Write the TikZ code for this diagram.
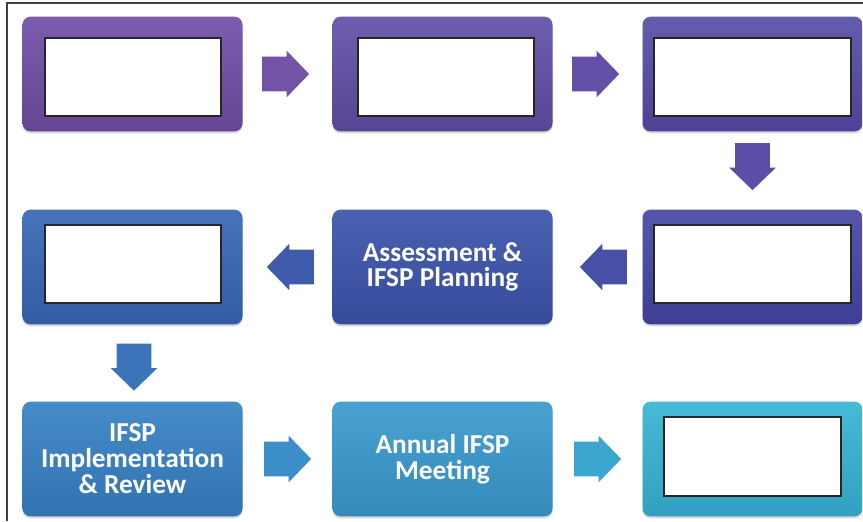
\documentclass[tikz,border=0pt]{standalone}
\usepackage{fontspec}
\setmainfont{Carlito}
\usetikzlibrary{shapes.arrows,shadows,calc}
\definecolor{frameC}{HTML}{404040}
\definecolor{t1}{HTML}{7B5CAE}\definecolor{b1c}{HTML}{644694}
\definecolor{t2}{HTML}{6F5DAE}\definecolor{b2c}{HTML}{584593}
\definecolor{t3}{HTML}{635DAE}\definecolor{b3c}{HTML}{4D4296}
\definecolor{t4}{HTML}{4673BA}\definecolor{b4c}{HTML}{335CA3}
\definecolor{t5}{HTML}{4961B0}\definecolor{b5c}{HTML}{374B9B}
\definecolor{t6}{HTML}{5555AC}\definecolor{b6c}{HTML}{3E3F94}
\definecolor{t7}{HTML}{458CC8}\definecolor{b7c}{HTML}{3272B1}
\definecolor{t8}{HTML}{48A2D1}\definecolor{b8c}{HTML}{348ABB}
\definecolor{t9}{HTML}{46BAD7}\definecolor{b9c}{HTML}{32A0C2}
\definecolor{a1c}{HTML}{7353A5}
\definecolor{a2c}{HTML}{6450A6}
\definecolor{d1c}{HTML}{5A4EA6}
\definecolor{l1c}{HTML}{4750A6}
\definecolor{l2c}{HTML}{3F5BAB}
\definecolor{d2c}{HTML}{3C74BA}
\definecolor{r3ac}{HTML}{3B8EC7}
\definecolor{r3bc}{HTML}{3BA6CF}
\tikzset{
  stagebox/.style={rectangle, rounded corners=6pt, minimum width=165pt, minimum height=86pt,
    inner sep=0pt, align=center, text=white,
    font=\bfseries\fontsize{20.5}{19.5}\selectfont,
    drop shadow={opacity=0.3, shadow xshift=0pt, shadow yshift=-1.5pt}},
  blankbox/.style={rectangle, draw=black!85, line width=1.1pt, fill=white, inner sep=0pt,
    minimum height=58.5pt},
  blockarrow/.style={single arrow, draw=none, inner xsep=0pt, inner ysep=12.75pt,
    minimum height=35.25pt, single arrow head extend=4.5pt, single arrow tip angle=92,
    anchor=tip},
}
\begin{document}
\begin{tikzpicture}[x=0.75pt,y=-0.75pt]
\useasboundingbox (0,0) rectangle (863,521);
\fill[white] (0,0) rectangle (863,521);
\draw[frameC, line width=1.2pt] (7,521) -- (7,3) -- (863,3);

% boxes
\node[stagebox, top color=t1, bottom color=b1c] (s1) at (132.5,74) {};
\node[stagebox, top color=t2, bottom color=b2c] (s2) at (442.5,74) {};
\node[stagebox, top color=t3, bottom color=b3c] (s3) at (752.5,74) {};
\node[stagebox, top color=t6, bottom color=b6c] (s4) at (752.5,267) {};
\node[stagebox, top color=t5, bottom color=b5c, font=\bfseries\fontsize{20.5}{19}\selectfont] (s5) at (442.5,267) {Assessment \&\\IFSP Planning};
\node[stagebox, top color=t4, bottom color=b4c] (s6) at (132.5,267) {};
\node[stagebox, top color=t7, bottom color=b7c] (s7) at (132.5,459) {IFSP\\Implementation\\\& Review};
\node[stagebox, top color=t8, bottom color=b8c] (s8) at (442.5,459) {Annual IFSP\\Meeting};
\node[stagebox, top color=t9, bottom color=b9c] (s9) at (752.5,459) {};

% blank white boxes
\node[blankbox, minimum width=132pt] (w1) at (133,77) {};
\node[blankbox, minimum width=132pt] (w2) at (446,77) {};
\node[blankbox, minimum width=147.75pt] (w3) at (752.5,77) {};
\node[blankbox, minimum width=147.75pt] (w4) at (752.5,264) {};
\node[blankbox, minimum width=132pt] (w6) at (133,264) {};
\node[blankbox, minimum width=132.75pt, minimum height=59.25pt] (w9) at (752.5,456.5) {};

% block arrows (placed by their tips)
\node[blockarrow, fill=a1c] (a1) at ($(s1.east)!0.5!(s2.west)+(22,0)$) {};
\node[blockarrow, fill=a2c] (a2) at ($(s2.east)!0.5!(s3.west)+(22,0)$) {};
\node[blockarrow, fill=d1c, rotate=-90] (a3) at ($(s3.south)!0.5!(s4.north)+(0,20)$) {};
\node[blockarrow, fill=l1c, rotate=180] (a4) at ($(s4.west)!0.5!(s5.east)+(-18,0)$) {};
\node[blockarrow, fill=l2c, rotate=180] (a5) at ($(s5.west)!0.5!(s6.east)+(-21,0)$) {};
\node[blockarrow, fill=d2c, rotate=-90] (a6) at ($(s6.south)!0.5!(s7.north)+(1.5,28)$) {};
\node[blockarrow, fill=r3ac] (a7) at ($(s7.east)!0.5!(s8.west)+(24,0)$) {};
\node[blockarrow, fill=r3bc] (a8) at ($(s8.east)!0.5!(s9.west)+(24,0)$) {};
\end{tikzpicture}
\end{document}
